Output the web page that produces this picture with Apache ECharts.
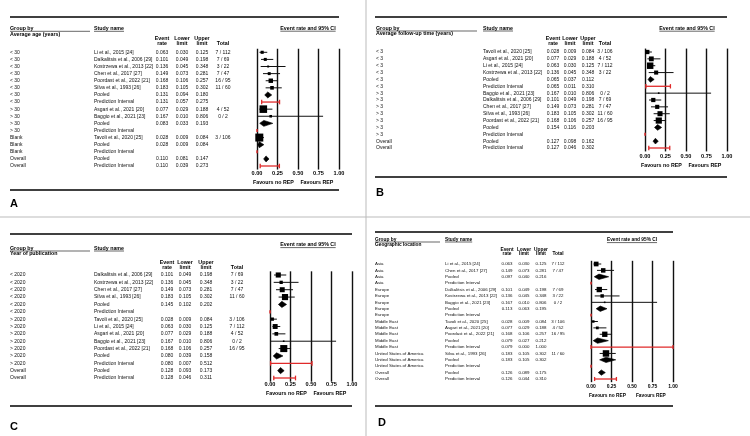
<!DOCTYPE html>
<html><head><meta charset="utf-8">
<script src="https://cdn.jsdelivr.net/npm/echarts@6/dist/echarts.min.js"></script>
<style>html,body{margin:0;padding:0;background:#fff}#c{width:750px;height:436px}</style>
</head><body><div id="c"></div>
<script>
// ---------- DATA ----------
const xTicks = [0, 0.25, 0.5, 0.75, 1];
const xTickLabels = ['0.00', '0.25', '0.50', '0.75', '1.00'];

// Panel A – Average age (years)
const A_group = ['< 30','< 30','< 30','< 30','< 30','< 30','< 30','< 30','> 30','> 30','> 30','> 30','Blank','Blank','Blank','Overall','Overall'];
const A_study = ['Li et al., 2015 [24]','Dalkalitsis et al., 2006 [29]','Kostrzewa et al., 2013 [22]','Chen et al., 2017 [27]','Poordast et al., 2022 [21]','Silva et al., 1993 [26]','Pooled','Prediction Interval','Asgari et al., 2021 [20]','Baggio et al., 2021 [23]','Pooled','Prediction Interval','Tavoli et al., 2020 [25]','Pooled','Prediction Interval','Pooled','Prediction Interval'];
const A_rate  = [0.063,0.101,0.136,0.149,0.168,0.183,0.131,0.131,0.077,0.167,0.083,null,0.028,0.028,null,0.110,0.110];
const A_lower = [0.030,0.049,0.045,0.073,0.106,0.105,0.094,0.057,0.029,0.010,0.033,null,0.009,0.009,null,0.081,0.039];
const A_upper = [0.125,0.198,0.348,0.281,0.257,0.302,0.180,0.275,0.188,0.806,0.193,null,0.084,0.084,null,0.147,0.273];
const A_total = ['7 / 112','7 / 69','3 / 22','7 / 47','16 / 95','11 / 60','','','4 / 52','0 / 2','','','3 / 106','','','',''];

// Panel B – Average follow-up time (years)
const B_group = ['< 3','< 3','< 3','< 3','< 3','< 3','> 3','> 3','> 3','> 3','> 3','> 3','> 3','Overall','Overall'];
const B_study = ['Tavoli et al., 2020 [25]','Asgari et al., 2021 [20]','Li et al., 2015 [24]','Kostrzewa et al., 2013 [22]','Pooled','Prediction Interval','Baggio et al., 2021 [23]','Dalkalitsis et al., 2006 [29]','Chen et al., 2017 [27]','Silva et al., 1993 [26]','Poordast et al., 2022 [21]','Pooled','Prediction Interval','Pooled','Prediction Interval'];
const B_rate  = [0.028,0.077,0.063,0.136,0.065,0.065,0.167,0.101,0.149,0.183,0.168,0.154,null,0.127,0.127];
const B_lower = [0.009,0.029,0.030,0.045,0.037,0.011,0.010,0.049,0.073,0.105,0.106,0.116,null,0.098,0.046];
const B_upper = [0.084,0.188,0.125,0.348,0.112,0.310,0.806,0.198,0.281,0.302,0.257,0.203,null,0.162,0.302];
const B_total = ['3 / 106','4 / 52','7 / 112','3 / 22','','','0 / 2','7 / 69','7 / 47','11 / 60','16 / 95','','','',''];

// Panel C – Year of publication
const C_group = ['< 2020','< 2020','< 2020','< 2020','< 2020','< 2020','> 2020','> 2020','> 2020','> 2020','> 2020','> 2020','> 2020','Overall','Overall'];
const C_study = ['Dalkalitsis et al., 2006 [29]','Kostrzewa et al., 2013 [22]','Chen et al., 2017 [27]','Silva et al., 1993 [26]','Pooled','Prediction Interval','Tavoli et al., 2020 [25]','Li et al., 2015 [24]','Asgari et al., 2021 [20]','Baggio et al., 2021 [23]','Poordast et al., 2022 [21]','Pooled','Prediction Interval','Pooled','Prediction Interval'];
const C_rate  = [0.101,0.136,0.149,0.183,0.145,null,0.028,0.063,0.077,0.167,0.168,0.080,0.080,0.128,0.128];
const C_lower = [0.049,0.045,0.073,0.105,0.102,null,0.009,0.030,0.029,0.010,0.106,0.039,0.007,0.093,0.046];
const C_upper = [0.198,0.348,0.281,0.302,0.202,null,0.084,0.125,0.188,0.806,0.257,0.158,0.512,0.173,0.311];
const C_total = ['7 / 69','3 / 22','7 / 47','11 / 60','','','3 / 106','7 / 112','4 / 52','0 / 2','16 / 95','','','',''];

// Panel D – Geographic location
const D_group = ['Asia','Asia','Asia','Asia','Europe','Europe','Europe','Europe','Europe','Middle East','Middle East','Middle East','Middle East','Middle East','United States of America','United States of America','United States of America','Overall','Overall'];
const D_study = ['Li et al., 2015 [24]','Chen et al., 2017 [27]','Pooled','Prediction Interval','Dalkalitsis et al., 2006 [29]','Kostrzewa et al., 2013 [22]','Baggio et al., 2021 [23]','Pooled','Prediction Interval','Tavoli et al., 2020 [25]','Asgari et al., 2021 [20]','Poordast et al., 2022 [21]','Pooled','Prediction Interval','Silva et al., 1993 [26]','Pooled','Prediction Interval','Pooled','Prediction Interval'];
const D_rate  = [0.063,0.149,0.097,null,0.101,0.136,0.167,0.113,null,0.028,0.077,0.168,0.079,0.079,0.183,0.183,null,0.126,0.126];
const D_lower = [0.030,0.073,0.040,null,0.049,0.045,0.010,0.063,null,0.009,0.029,0.106,0.027,0.000,0.105,0.105,null,0.089,0.044];
const D_upper = [0.125,0.281,0.216,null,0.198,0.348,0.806,0.195,null,0.084,0.188,0.257,0.212,1.000,0.302,0.302,null,0.175,0.310];
const D_total = ['7 / 112','7 / 47','','','7 / 69','3 / 22','0 / 2','','','3 / 106','4 / 52','16 / 95','','','11 / 60','','','',''];

// ---------- LAYOUT ----------
const FONT = 'Liberation Sans, Arial, Helvetica, sans-serif';
const RED = '#e02a2a';
const PANELS = [
  {letter:'A', sub:'Average age (years)', group:A_group, study:A_study, rate:A_rate, lower:A_lower, upper:A_upper, total:A_total,
   L:{plotL:257, plotR:339, rowFirst:52.3, rowLast:166, groupX:10, studyX:94, rateX:162, lowerX:182, upperX:202, totalX:223,
      lineL:10, lineR:339, topY:17, botY:190, groupY:28.3, underY:31.3, subY:34.3, h1Y:38.3, h2Y:43.3, titleX:308, titleY:28.6,
      axisY:173, favY:183, letterX:10, letterY:204, fs:5, hfs:5.3, afs:5.6, S:8, guL:90}},
  {letter:'B', sub:'Average follow-up time (years)', group:B_group, study:B_study, rate:B_rate, lower:B_lower, upper:B_upper, total:B_total,
   L:{plotL:645, plotR:727, rowFirst:52, rowLast:148, groupX:376, studyX:483, rateX:553, lowerX:570, upperX:588, totalX:605,
      lineL:375, lineR:727, topY:17, botY:177, groupY:28.3, underY:31, subY:33.5, h1Y:38.3, h2Y:43.3, titleX:687, titleY:28.6,
      axisY:156, favY:166, letterX:376, letterY:193, fs:5, hfs:5.3, afs:5.6, S:10, guL:477}},
  {letter:'C', sub:'Year of publication', group:C_group, study:C_study, rate:C_rate, lower:C_lower, upper:C_upper, total:C_total,
   L:{plotL:270, plotR:352, rowFirst:275, rowLast:378, groupX:10, studyX:94, rateX:167, lowerX:185, upperX:206, totalX:237,
      lineL:10, lineR:352, topY:234, botY:406, groupY:248.5, underY:251, subY:253.5, h1Y:262.5, h2Y:267.3, titleX:308, titleY:245,
      axisY:384.5, favY:394, letterX:10, letterY:427, fs:5, hfs:5.3, afs:5.6, S:10, guL:90}},
  {letter:'D', sub:'Geographic location', group:D_group, study:D_study, rate:D_rate, lower:D_lower, upper:D_upper, total:D_total,
   L:{plotL:591, plotR:673, rowFirst:264, rowLast:379, groupX:375, studyX:445, rateX:507, lowerX:524, upperX:541, totalX:558,
      lineL:375, lineR:673, topY:232, botY:406, groupY:240, underY:242, subY:244.3, h1Y:249.3, h2Y:254, titleX:632, titleY:240,
      axisY:387, favY:396, letterX:378, letterY:423, fs:4.4, hfs:4.8, afs:5, S:6.5, guL:440}}
];

const ctx = document.createElement('canvas').getContext('2d');
function textW(t, size, bold){ ctx.font = (bold?'bold ':'') + size + 'px ' + FONT; return ctx.measureText(t).width; }
const fmt = v => v == null ? '' : v.toFixed(3);
const logit = p => Math.log(p / (1 - p));

function renderForest(params, api){
  const type = api.value(4);
  const row = api.value(1);
  const band = api.size([0, 1])[1];
  const y = api.coord([0, row])[1];
  if (type === 3) {
    const x0 = api.coord([0, row])[0];
    return {type:'rect', shape:{x:x0 - 0.7, y:y - band*0.22, width:1.5, height:band*0.44}, style:{fill:RED}};
  }
  const xc = api.coord([api.value(0), row])[0];
  const xl = api.coord([api.value(2), row])[0];
  const xh = api.coord([api.value(3), row])[0];
  if (type === 0) {
    const s = api.value(5);
    return {type:'group', children:[
      {type:'line', shape:{x1:xl, y1:y, x2:xh, y2:y}, style:{stroke:'#111', lineWidth:1}},
      {type:'rect', shape:{x:xc - s/2, y:y - s/2, width:s, height:s}, style:{fill:'#000'}}
    ]};
  }
  if (type === 1) {
    const hh = band * 0.42;
    return {type:'polygon', shape:{points:[[xl, y], [xc, y - hh], [xh, y], [xc, y + hh]]}, style:{fill:'#000', stroke:'#000', lineWidth:0.6}};
  }
  const ch = band * 0.32;
  return {type:'group', children:[
    {type:'line', shape:{x1:xl, y1:y, x2:xh, y2:y}, style:{stroke:RED, lineWidth:1.3}},
    {type:'line', shape:{x1:xl, y1:y - ch, x2:xl, y2:y + ch}, style:{stroke:RED, lineWidth:1.3}},
    {type:'line', shape:{x1:xh, y1:y - ch, x2:xh, y2:y + ch}, style:{stroke:RED, lineWidth:1.3}}
  ]};
}

const option = {animation:false, backgroundColor:'#fff', grid:[], xAxis:[], yAxis:[], series:[], graphic:[]};
const G = option.graphic;
function gText(t, x, y, size, bold, align){
  G.push({type:'text', x:x, y:y, silent:true, style:{text:t, fontSize:size, fontWeight:bold?'bold':'normal', fontFamily:FONT, fill:'#000', align:align||'left', verticalAlign:'middle'}});
}
function gLine(x1, y1, x2, y2, w, c){
  G.push({type:'line', silent:true, shape:{x1:x1, y1:y1, x2:x2, y2:y2}, style:{stroke:c||'#000', lineWidth:w}});
}

// dividers between panels
gLine(366, 0, 366, 436, 1, '#bbb');
gLine(0, 217, 750, 217, 1, '#bbb');

PANELS.forEach((P, pi) => {
  const L = P.L;
  const n = P.study.length;
  const step = (L.rowLast - L.rowFirst) / (n - 1);
  const top = L.rowFirst - step / 2;
  const h = step * n;
  option.grid.push({left:L.plotL, top:top, width:L.plotR - L.plotL, height:h, containLabel:false, outerBoundsMode:'none'});
  const cats = P.study.map((_, i) => String(i));
  option.xAxis.push({gridIndex:pi, type:'value', min:0, max:1, interval:0.25,
    axisLine:{show:false}, axisTick:{show:false},
    splitLine:{show:true, lineStyle:{color:'#111', width:1.4}},
    axisLabel:{margin:Math.max(0, L.axisY - (top + h) - L.afs/2), fontSize:L.afs, fontWeight:'bold', color:'#000', fontFamily:FONT,
      showMinLabel:true, showMaxLabel:true,
      formatter:v => xTickLabels[xTicks.findIndex(t => Math.abs(t - v) < 1e-9)]}});
  const yBase = option.yAxis.length;
  option.yAxis.push({gridIndex:pi, type:'category', data:cats, inverse:true, axisLine:{show:false}, axisTick:{show:false}, axisLabel:{show:false}, splitLine:{show:false}});
  const cols = [
    {x:L.groupX, align:'left', arr:P.group},
    {x:L.studyX, align:'left', arr:P.study},
    {x:L.rateX, align:'center', arr:P.rate.map(fmt)},
    {x:L.lowerX, align:'center', arr:P.lower.map(fmt)},
    {x:L.upperX, align:'center', arr:P.upper.map(fmt)},
    {x:L.totalX, align:'center', arr:P.total}
  ];
  cols.forEach(c => option.yAxis.push({gridIndex:pi, type:'category', data:cats, inverse:true, position:'left', offset:L.plotL - c.x,
    axisLine:{show:false}, axisTick:{show:false}, splitLine:{show:false},
    axisLabel:{show:true, interval:0, margin:0, align:c.align, fontSize:L.fs, color:'#111', fontFamily:FONT, formatter:(v) => c.arr[+v]}}));

  // weights derived from CI width (inverse variance on logit scale), share within subgroup
  const w = P.study.map((s, i) => (P.total[i] !== '' ? 1 / Math.pow((logit(P.upper[i]) - logit(P.lower[i])) / 3.92, 2) : 0));
  const sums = {};
  w.forEach((v, i) => { sums[P.group[i]] = (sums[P.group[i]] || 0) + v; });
  const data = P.study.map((s, i) => {
    let type;
    if (s === 'Pooled') type = 1;
    else if (s === 'Prediction Interval') type = (P.rate[i] == null ? 3 : 2);
    else type = 0;
    const size = type === 0 ? Math.max(1.6, L.S * Math.sqrt(w[i] / sums[P.group[i]])) : 0;
    return [P.rate[i] == null ? 0 : P.rate[i], i, P.lower[i] == null ? 0 : P.lower[i], P.upper[i] == null ? 0 : P.upper[i], type, size];
  });
  option.series.push({type:'custom', xAxisIndex:pi, yAxisIndex:yBase, renderItem:renderForest, data:data,
    encode:{x:[0, 2, 3], y:1}, clip:false, silent:true});

  // decorations
  gLine(L.lineL, L.topY, L.lineR, L.topY, 1.4);
  gLine(L.lineL, L.botY, L.lineR, L.botY, 1.4);
  gText('Group by', L.groupX, L.groupY, L.hfs, true);
  gLine(L.groupX, L.underY, L.guL, L.underY, 0.6);
  gText(P.sub, L.groupX, L.subY, L.hfs, true);
  gText('Study name', L.studyX, L.groupY, L.hfs, true);
  gLine(L.studyX, L.underY, L.studyX + textW('Study name', L.hfs, true), L.underY, 0.6);
  gText('Event', L.rateX, L.h1Y, L.hfs, true, 'center');
  gText('rate', L.rateX, L.h2Y, L.hfs, true, 'center');
  gText('Lower', L.lowerX, L.h1Y, L.hfs, true, 'center');
  gText('limit', L.lowerX, L.h2Y, L.hfs, true, 'center');
  gText('Upper', L.upperX, L.h1Y, L.hfs, true, 'center');
  gText('limit', L.upperX, L.h2Y, L.hfs, true, 'center');
  gText('Total', L.totalX, L.h2Y, L.hfs, true, 'center');
  const tt = 'Event rate and 95% CI';
  const tw = textW(tt, L.hfs, true);
  gText(tt, L.titleX, L.titleY, L.hfs, true, 'center');
  gLine(L.titleX - tw/2, L.titleY + 2.6, L.titleX + tw/2, L.titleY + 2.6, 0.6);
  const pw = L.plotR - L.plotL;
  gText('Favours no REP', L.plotL + pw*0.2, L.favY, L.hfs, true, 'center');
  gText('Favours REP', L.plotL + pw*0.73, L.favY, L.hfs, true, 'center');
  gText(P.letter, L.letterX, L.letterY, 11, true);
});

const chart = echarts.init(document.getElementById('c'), null, {renderer:'canvas'});
chart.setOption(option);
</script>
</body></html>
